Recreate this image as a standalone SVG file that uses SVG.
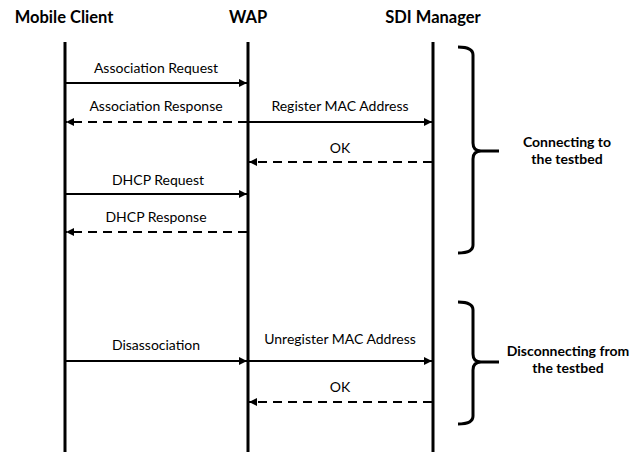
<svg xmlns="http://www.w3.org/2000/svg" width="641" height="452" viewBox="0 0 641 452">
<defs>
<marker id="ah" viewBox="0 0 10 10" refX="10" refY="5" markerWidth="8" markerHeight="8" markerUnits="userSpaceOnUse" orient="auto">
<path d="M0,0 L10,5 L0,10 z" fill="#000"/>
</marker>
<style>
.hdr{font-family:Lato,"Open Sans","Liberation Sans",sans-serif;font-weight:bold;font-size:16.5px;fill:#000;text-anchor:middle}
.lbl{font-family:Lato,"Open Sans","Liberation Sans",sans-serif;font-size:14px;fill:#000;text-anchor:middle}
.grp{font-family:Lato,"Open Sans","Liberation Sans",sans-serif;font-weight:bold;font-size:14px;fill:#000;text-anchor:middle}
.life{stroke:#000;stroke-width:3;fill:none}
.msg{stroke:#000;stroke-width:2;fill:none;marker-end:url(#ah)}
.ret{stroke:#000;stroke-width:2;fill:none;stroke-dasharray:9 6;marker-end:url(#ah)}
.brace{stroke:#000;stroke-width:3;fill:none}
</style>
</defs>
<rect width="641" height="452" fill="#fff"/>
<g id="mobile-client">
<text class="hdr" x="64" y="23">Mobile Client</text>
<line class="life" x1="65" y1="42" x2="65" y2="452"/>
</g>
<g id="wap">
<text class="hdr" x="248" y="23">WAP</text>
<line class="life" x1="248" y1="42" x2="248" y2="452"/>
</g>
<g id="sdi-manager">
<text class="hdr" x="433" y="23">SDI Manager</text>
<line class="life" x1="433" y1="42" x2="433" y2="452"/>
</g>
<g id="connectors">
<line class="msg" x1="66" y1="83" x2="247" y2="83"/>
<text class="lbl" x="156" y="73">Association Request</text>
<line class="ret" x1="247" y1="122" x2="66" y2="122"/>
<text class="lbl" x="156" y="111">Association Response</text>
<line class="msg" x1="249" y1="122" x2="432" y2="122"/>
<text class="lbl" x="340" y="111">Register MAC Address</text>
<line class="ret" x1="432" y1="162" x2="249" y2="162"/>
<text class="lbl" x="340" y="153">OK</text>
<line class="msg" x1="66" y1="194" x2="247" y2="194"/>
<text class="lbl" x="158" y="185">DHCP Request</text>
<line class="ret" x1="247" y1="232" x2="66" y2="232"/>
<text class="lbl" x="156" y="222">DHCP Response</text>
<line class="msg" x1="66" y1="361" x2="247" y2="361"/>
<text class="lbl" x="156" y="350">Disassociation</text>
<line class="msg" x1="249" y1="361" x2="432" y2="361"/>
<text class="lbl" x="340" y="344">Unregister MAC Address</text>
<line class="ret" x1="432" y1="402" x2="249" y2="402"/>
<text class="lbl" x="340" y="392">OK</text>
</g>
<g id="connecting-group">
<path class="brace" d="M458,47 Q473,47 473,55 L473,143 Q473,151 481,151 L499,151 M481,151 Q473,151 473,159 L473,245 Q473,253 458,253"/>
<text class="grp" x="567" y="147">Connecting to</text>
<text class="grp" x="567" y="164">the testbed</text>
</g>
<g id="disconnecting-group">
<path class="brace" d="M458,302 Q473,302 473,310 L473,354 Q473,362 481,362 L499,362 M481,362 Q473,362 473,370 L473,416 Q473,424 458,424"/>
<text class="grp" x="568" y="356">Disconnecting from</text>
<text class="grp" x="568" y="373">the testbed</text>
</g>
</svg>
